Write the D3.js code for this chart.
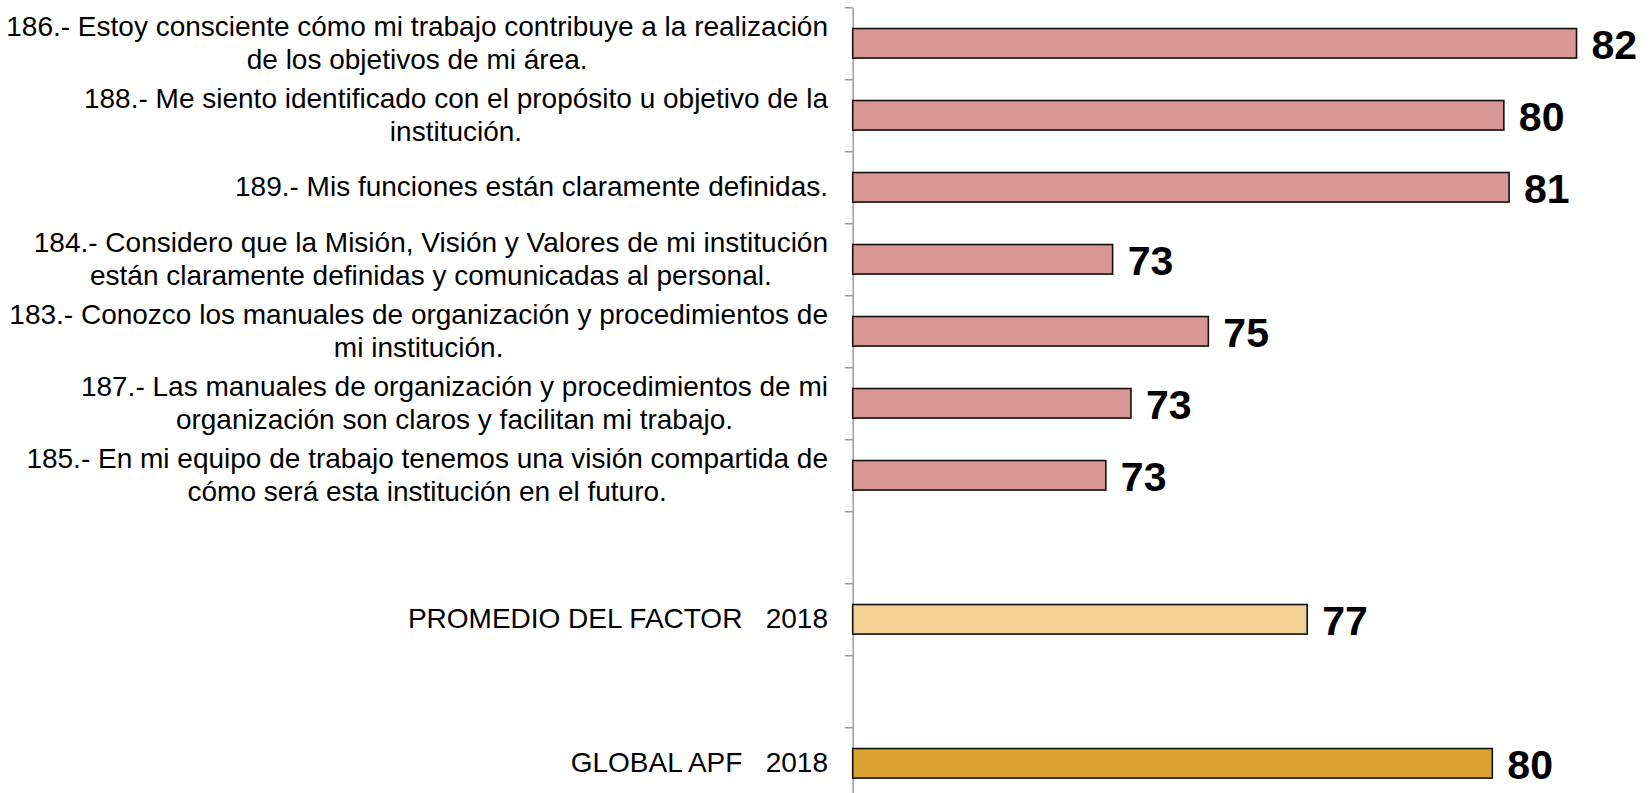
<!DOCTYPE html>
<html>
<head>
<meta charset="utf-8">
<script src="https://cdn.jsdelivr.net/npm/d3@7"></script>
<style>
  html, body { margin: 0; padding: 0; background: #fff; overflow: hidden; }
  text { font-family: "Liberation Sans", Arial, sans-serif; white-space: pre; }
</style>
</head>
<body>
<div id="chart"></div>
<script>
// category labels, top to bottom ("" = empty slot), "\n" marks a line break
const categories = [
  "186.- Estoy consciente cómo mi trabajo contribuye a la realización\nde los objetivos de mi área.",
  "188.- Me siento identificado con el propósito u objetivo de la\ninstitución.",
  "189.- Mis funciones están claramente definidas.",
  "184.- Considero que la Misión, Visión y Valores de mi institución\nestán claramente definidas y comunicadas al personal.",
  "183.- Conozco los manuales de organización y procedimientos de\nmi institución.",
  "187.- Las manuales de organización y procedimientos de mi\norganización son claros y facilitan mi trabajo.",
  "185.- En mi equipo de trabajo tenemos una visión compartida de\ncómo será esta institución en el futuro.",
  "",
  "PROMEDIO DEL FACTOR   2018",
  "",
  "GLOBAL APF   2018"
];

const values = [81.84, 80.45, 80.55, 72.97, 74.80, 73.32, 72.84, null, 76.69, null, 80.23];

const kinds = ["pregunta", "pregunta", "pregunta", "pregunta", "pregunta", "pregunta", "pregunta",
  null, "promedio", null, "global"];

const xDomain = [68, 82];

const width = 1652;
const height = 793;
const axisX = 852.7;
const labelRight = 828;
const fontSize = 28;
const lineGap = 33;

const svg = d3.select("#chart")
  .append("svg")
  .attr("width", width)
  .attr("height", height);

const x = d3.scaleLinear()
  .domain(xDomain)
  .range([axisX, axisX + 14 * 52.3]);

const y = d3.scaleBand()
  .domain(d3.range(categories.length))
  .range([7.3, 7.3 + 72 * categories.length])
  .padding(0);

const color = d3.scaleOrdinal()
  .domain(["pregunta", "promedio", "global"])
  .range(["#d99694", "#f3d194", "#dba432"]);

const barH = y.bandwidth() * 0.41;

// axis with ticks on the band boundaries
const yIdx = d3.scaleLinear()
  .domain([0, categories.length])
  .range(y.range());

const yAxis = d3.axisLeft(yIdx)
  .tickValues(d3.range(categories.length + 1))
  .tickSize(8)
  .tickSizeOuter(0)
  .tickFormat("");

const axisG = svg.append("g")
  .attr("transform", `translate(${axisX},0)`)
  .call(yAxis);

axisG.select(".domain").attr("stroke", "#868686").attr("stroke-width", 1.2);
axisG.selectAll(".tick line").attr("stroke", "#868686").attr("stroke-width", 1.2);

const rows = categories.map((c, i) => ({ i, label: c, value: values[i], kind: kinds[i] }));
const barRows = rows.filter((d) => d.value != null);

svg.append("g")
  .selectAll("rect")
  .data(barRows)
  .enter()
  .append("rect")
  .attr("x", x(xDomain[0]))
  .attr("y", (d) => y(d.i) + (y.bandwidth() - barH) / 2)
  .attr("width", (d) => x(d.value) - x(xDomain[0]))
  .attr("height", barH)
  .attr("fill", (d) => color(d.kind))
  .attr("stroke", "#111")
  .attr("stroke-width", 1.6);

// value labels
svg.append("g")
  .selectAll("text")
  .data(barRows)
  .enter()
  .append("text")
  .attr("x", (d) => x(d.value) + 15)
  .attr("y", (d) => y(d.i) + y.bandwidth() / 2 + 16)
  .style("font-size", "41px")
  .style("font-weight", "bold")
  .attr("fill", "#000")
  .text((d) => d3.format(".0f")(d.value));

// category labels: block right-aligned to the axis, lines centered inside it
const labelG = svg.append("g")
  .selectAll("g")
  .data(rows.filter((d) => d.label !== ""))
  .enter()
  .append("g");

labelG.each(function (d) {
  const g = d3.select(this);
  const lines = d.label.split("\n");
  const cy = y(d.i) + y.bandwidth() / 2;
  const first = lines.length === 1 ? cy + 9 : cy - 7;
  const texts = lines.map((line, k) => g.append("text")
    .attr("x", 0)
    .attr("y", first + k * lineGap)
    .attr("text-anchor", "middle")
    .style("font-size", fontSize + "px")
    .attr("fill", "#000")
    .text(line));
  const w = d3.max(texts, (t) => t.node().getComputedTextLength());
  g.attr("transform", `translate(${labelRight - w / 2},0)`);
});
</script>
</body>
</html>
